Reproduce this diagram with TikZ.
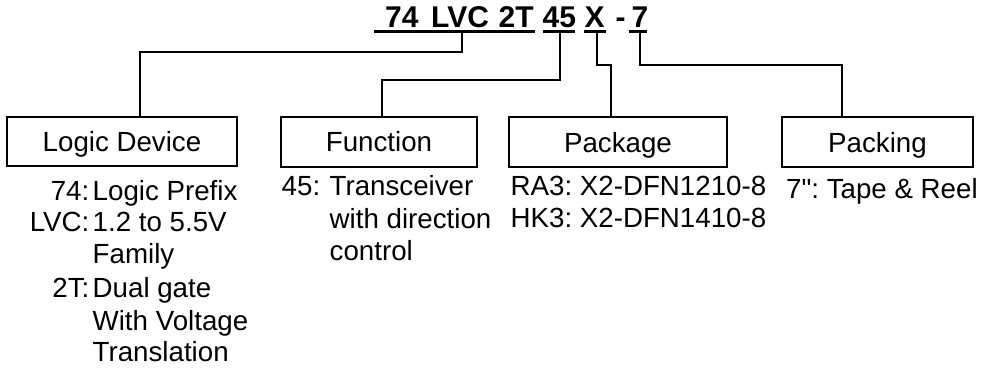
\documentclass[tikz,border=0pt]{standalone}
\usepackage{fontspec}
\newfontfamily\lib{Liberation Sans}
\begin{document}
\frenchspacing
\begin{tikzpicture}[x=1pt,y=-1pt,
  box/.style={draw=black,line width=2pt,inner sep=0pt,text height=20pt,text depth=0pt,
    font=\lib\fontsize{27.7}{32}\selectfont},
  conn/.style={draw=black,line width=2pt,line join=miter},
  uline/.style={draw=black,line width=2.6pt},
  ttl/.style={anchor=base west,inner sep=0pt,font=\lib\fontsize{30}{34}\selectfont\bfseries},
  lab/.style={anchor=base east,inner sep=0pt,font=\lib\fontsize{27.7}{32}\selectfont},
  txt/.style={anchor=base west,inner sep=0pt,font=\lib\fontsize{27.7}{32}\selectfont}]
\useasboundingbox (0,0) rectangle (985,370);
% title
\node[ttl] (t74) at (385,27) {74};
\node[ttl] (tLVC) at (431,27) {LVC};
\node[ttl] (t2T) at (498.5,27) {2T};
\node[ttl] (t45) at (542.5,27) {45};
\node[ttl] (tX) at (584.5,27) {X};
\node[ttl] (tdash) at (615.5,27) {-};
\node[ttl] (t7) at (631.5,27) {7};
\draw[uline] (374,31.5) -- (535,31.5);
\draw[uline] (543,31.5) -- (575,31.5);
\draw[uline] (584,31.5) -- (606,31.5);
\draw[uline] (629,31.5) -- (647,31.5);
\coordinate (cLVC) at (462,31.5);
\coordinate (c45) at (560,31.5);
\coordinate (cX) at (597,31.5);
\coordinate (c7) at (640,31.5);
% boxes
\node[box,minimum width=230pt,minimum height=49pt] (logic) at (122,141.5) {Logic Device};
\node[box,minimum width=196pt,minimum height=50pt] (func) at (379,141.5) {Function};
\node[box,minimum width=218pt,minimum height=50pt] (pack) at (618,142) {Package};
\node[box,minimum width=191pt,minimum height=50pt] (packing) at (877.5,142) {Packing};
% connectors
\draw[conn] (cLVC) -- (462,52) -- (140,52) -- ([xshift=18pt]logic.north);
\draw[conn] (c45) -- (560,80) -- (382,80) -- ([xshift=3pt]func.north);
\draw[conn] (cX) -- (597,65) -- (611,65) -- ([xshift=-7pt]pack.north);
\draw[conn] (c7) -- (640,65) -- (842,65) -- ([xshift=-35.5pt]packing.north);
% logic device texts
\node[lab] (l74) at (89.5,200) {74:};
\node[txt] (d74) at (92.5,200) {Logic Prefix};
\node[lab] (lLVC) at (89.5,231) {LVC:};
\node[txt] (dLVC) at (92.5,231) {1.2 to 5.5V};
\node[txt] (dFam) at (92.5,263) {Family};
\node[lab] (l2T) at (89.5,297) {2T:};
\node[txt] (d2T) at (92.5,297) {Dual gate};
\node[txt] (dWV) at (92.5,330) {With Voltage};
\node[txt] (dTr) at (92.5,361) {Translation};
% function texts
\node[txt] (l45) at (281.5,195) {45:};
\node[txt] (d45a) at (329.5,195) {Transceiver};
\node[txt] (d45b) at (329.5,228) {with direction};
\node[txt] (d45c) at (329.5,260) {control};
% package texts
\node[txt] (dRA3) at (510.5,195) {RA3: X2-DFN1210-8};
\node[txt] (dHK3) at (510.5,227) {HK3: X2-DFN1410-8};
% packing text
\node[txt] (d7) at (786,198) {7": Tape \& Reel};
\end{tikzpicture}
\end{document}
